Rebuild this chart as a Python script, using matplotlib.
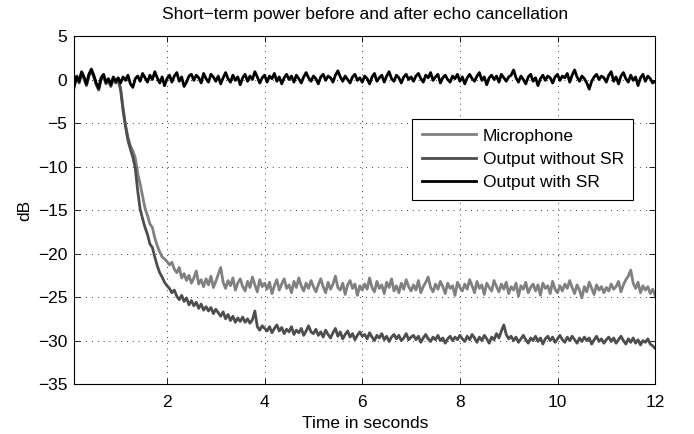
import numpy as np
import matplotlib
matplotlib.use("Agg")
import matplotlib.pyplot as plt

plt.rcParams['font.family'] = ['Liberation Sans', 'DejaVu Sans']

# time base (seconds), 0.05 s sampling
time_s = np.round(np.linspace(0.05, 12.0, 240), 3)

out_with_sr = [
    -2.0, -0.6, 0.4, -0.2, 0.9, 0.3, -0.5, 0.6, 1.2, 0.5, -0.4, -1.0, 0.2, 0.6, -0.3, 0.1, -0.6, 0.3, -0.2, 0.2,
    -0.4, 0.3, -0.1, 0.5, -0.5, -0.9, 0.1, 0.4, -0.2, 0.7, 0.2, -0.3, 0.5, 0.0, 0.9, 0.2, -0.4, 0.3, -0.7, 0.1,
    0.5, -0.3, 0.4, 0.8, -0.2, 0.3, -0.8, -0.3, 0.4, 0.6, -0.1, 0.5, 0.2, -0.4, 0.7, 0.1, -0.3, 0.6, 0.3, -0.2,
    0.4, -0.5, 0.2, 0.8, 0.1, -0.3, 0.5, -0.1, 0.3, -0.6, 0.2, 0.6, -0.2, 0.4, 0.0, 0.9, 0.3, -0.4, 0.2, 0.5,
    -0.3, 0.4, 0.1, 0.7, -0.2, 0.3, -0.5, 0.2, 0.6, 0.0, 0.4, -0.3, 0.5, 0.1, -0.4, 0.3, 0.8, 0.2, -0.2, 0.4,
    0.1, -0.5, 0.3, 0.6, -0.1, 0.4, 0.2, -0.3, 0.5, 1.0, 0.3, -0.2, 0.4, 0.0, -0.4, 0.3, 0.6, -0.1, 0.2, -0.3,
    0.4, 0.1, -0.5, 0.3, 0.7, -0.2, 0.2, 0.5, -0.3, 0.4, 0.9, 0.1, -0.2, 0.5, 0.2, -0.4, 0.3, 0.6, 0.0, 0.3,
    -0.2, 0.4, 0.7, 0.1, -0.3, 0.5, 0.2, 0.8, -0.1, 0.3, 0.6, -0.4, 0.2, 0.5, 0.0, -0.3, 0.4, 0.1, 0.6, -0.2,
    0.3, -0.5, 0.2, 0.6, 0.1, -0.2, 0.4, 0.8, -0.1, 0.3, -0.6, 0.2, 0.5, 0.0, 0.4, -0.3, 0.6, 0.2, -0.2, 0.3,
    0.5, 1.1, 0.2, -0.3, 0.4, 0.0, -0.5, 0.3, 0.6, -0.2, 0.2, -0.7, 0.1, 0.5, -0.1, 0.4, 0.2, -0.4, 0.3, 0.6,
    -0.1, 0.4, 0.2, 0.7, -0.3, 0.5, 1.1, 0.3, -0.2, 0.4, 0.1, -0.4, -1.1, -0.2, 0.3, 0.6, 0.0, 0.4, 0.2, -0.3,
    0.5, 0.9, -0.2, 0.3, -0.5, 0.4, 0.8, 0.1, -0.3, 0.5, -0.1, 0.3, -0.7, 0.2, 0.6, -0.2, 0.4, 0.1, -0.4, -0.2,
]

microphone = [
    -2.1, -0.7, 0.3, -0.3, 0.8, 0.2, -0.6, 0.5, 1.1, 0.4, -0.5, -1.1, 0.1, 0.5, -0.4, 0.0, -0.7, 0.2, -0.3, 0.0,
    -1.0, -3.2, -5.2, -6.6, -7.6, -8.2, -9.0, -10.8, -12.0, -13.4, -14.8, -15.6, -16.6, -17.0, -18.2, -19.1, -19.8, -20.4, -20.6, -20.9,
    -21.3, -21.0, -21.8, -22.2, -21.6, -22.8, -22.3, -23.1, -22.5, -23.4, -22.8, -22.0, -23.5, -23.0, -23.8, -22.9, -23.6, -22.6, -23.9, -23.2,
    -22.4, -21.6, -23.3, -24.0, -23.1, -23.7, -22.8, -24.2, -23.4, -22.9, -23.8, -24.3, -23.2, -23.9, -22.7, -23.6, -24.4, -23.0, -23.8, -23.4,
    -24.1, -23.3, -24.6, -23.7, -23.0, -24.2, -23.5, -22.9, -24.0, -23.6, -24.5, -23.2, -23.9, -22.8, -23.7, -24.3, -23.4, -24.0, -23.1, -23.8,
    -24.4, -23.6, -22.9, -23.8, -24.5, -23.3, -24.1, -23.5, -22.6, -23.9, -24.2, -23.4, -24.7, -23.6, -23.1, -24.0, -23.5, -24.8, -23.7, -24.2,
    -23.5, -24.1, -22.8, -23.9, -24.4, -23.2, -24.0, -23.6, -24.6, -23.3, -23.9, -22.9, -24.3, -23.7, -24.5, -23.4, -24.1, -23.0, -23.8, -24.3,
    -23.6, -24.2, -23.1, -24.5, -23.8, -23.3, -22.7, -23.9, -24.4, -23.5, -24.1, -23.2, -23.8, -24.6, -23.4, -24.0, -23.7, -24.8, -23.3, -23.9,
    -24.3, -23.5, -24.1, -23.0, -23.7, -24.5, -23.2, -24.0, -23.6, -24.7, -23.4, -23.9, -24.3, -23.1, -23.8, -24.4, -23.5, -24.1, -23.3, -24.6,
    -23.8, -24.2, -23.4, -24.9, -23.7, -24.1, -23.3, -24.5, -23.9, -23.5, -24.3, -23.6, -24.8, -23.4, -24.0, -23.7, -24.6, -23.2, -24.1, -24.5,
    -23.7, -24.3, -23.5, -24.0, -23.1, -23.9, -24.6, -23.6, -24.2, -25.1, -23.8, -24.4, -23.3, -24.0, -24.7, -23.6, -24.2, -23.8, -24.5, -23.9,
    -24.3, -23.5, -24.1, -23.8, -23.2, -24.4, -23.6, -23.0, -22.6, -21.9, -23.4, -24.0, -23.3, -24.5, -23.7, -24.2, -23.8, -24.6, -24.1, -24.8,
]

out_without_sr = [
    -2.2, -0.8, 0.2, -0.4, 0.7, 0.1, -0.7, 0.4, 1.0, 0.3, -0.6, -1.2, 0.0, 0.4, -0.5, -0.1, -0.8, 0.1, -0.4, -0.1,
    -1.2, -3.6, -5.4, -7.0, -8.0, -8.9, -10.2, -12.8, -14.9, -16.0, -17.0, -17.8, -18.9, -19.3, -20.4, -21.4, -22.2, -22.7, -23.3, -23.7,
    -24.0, -24.5, -24.2, -24.9, -25.3, -24.8, -25.5, -25.1, -25.9, -25.4, -26.0, -25.6, -26.3, -25.8, -26.5, -26.1, -26.6, -26.2, -26.9, -26.4,
    -26.8, -27.2, -26.7, -27.5, -27.0, -27.7, -27.2, -27.9, -27.4, -27.8, -27.3, -27.9, -27.5, -28.0, -27.6, -26.6, -28.4, -28.8, -28.3, -28.6,
    -28.9, -28.4, -29.1, -28.6, -28.2, -28.9, -28.5, -29.2, -28.7, -29.0, -28.4, -29.3, -28.8, -29.1, -28.6, -29.4, -28.9, -28.3, -29.0, -29.2,
    -28.7, -29.4, -29.0, -29.6, -28.8, -29.3, -29.7, -29.1, -28.6, -29.5, -29.0, -29.8, -29.3, -28.9, -29.6, -29.2, -29.9, -29.4, -29.0, -29.5,
    -29.3, -29.8, -29.1, -29.6, -30.0, -29.4, -29.7, -29.2, -29.9, -29.5, -30.1, -29.6, -29.3, -29.8, -29.4, -30.0, -29.7, -29.2, -29.9, -29.6,
    -29.4, -29.9, -29.5, -30.2, -29.7, -29.3, -29.8, -30.1, -29.6, -29.9, -29.4, -30.0, -29.7, -30.3, -29.8, -29.5, -30.0, -29.6, -29.9, -29.4,
    -29.8, -30.1, -29.5, -29.9, -29.3, -29.7, -30.2, -29.6, -30.0, -29.4, -29.8, -30.3, -29.6, -29.9, -29.2, -29.7, -28.9, -28.2, -29.3, -29.8,
    -29.5, -30.0, -29.6, -30.2, -29.8, -29.4, -29.9, -30.3, -29.7, -30.0, -29.5, -30.1, -29.7, -30.4, -29.8, -29.5, -30.0, -29.6, -30.2, -29.8,
    -29.4, -29.9, -30.2, -29.6, -30.0, -29.5, -29.9, -30.3, -29.7, -30.1, -29.6, -30.0, -29.7, -30.4, -29.9, -29.5, -30.1, -29.8, -30.3, -29.9,
    -29.6, -30.1, -29.7, -30.3, -29.9, -29.5, -30.0, -30.4, -29.8, -30.2, -29.7, -30.3, -29.9, -30.5, -30.0, -30.2, -29.8, -30.4, -30.6, -30.9,
]

series_labels = ["Microphone", "Output without SR", "Output with SR"]
x_ticks = [2, 4, 6, 8, 10, 12]
y_ticks = [-35, -30, -25, -20, -15, -10, -5, 0, 5]

FS = 12.5

fig = plt.figure(figsize=(6.94, 4.34), dpi=100)
ax = fig.add_axes([0.107, 0.115, 0.837, 0.802])

ax.plot(time_s, microphone, color='#808080', lw=2.0, label=series_labels[0])
ax.plot(time_s, out_without_sr, color='#4d4d4d', lw=2.0, label=series_labels[1])
ax.plot(time_s, out_with_sr, color='black', lw=2.0, label=series_labels[2])

ax.set_xlim(0.1, 12)
ax.set_ylim(-35, 5)
ax.set_xticks(x_ticks)
ax.set_yticks(y_ticks)
ax.tick_params(direction='in', top=True, right=True, length=4, width=0.6, labelsize=FS)
ax.tick_params(axis='x', pad=8)
ax.tick_params(axis='y', pad=5)
ax.grid(True, color='black', linestyle=(0, (1, 6)), linewidth=0.6)
for s in ax.spines.values():
    s.set_linewidth(0.8)

ax.set_title("Short\u2212term power before and after echo cancellation", fontsize=FS, pad=12)
ax.set_xlabel("Time in seconds", fontsize=FS, labelpad=4)
ax.set_ylabel("dB", fontsize=FS, labelpad=4)

leg = ax.legend(loc='upper left', bbox_to_anchor=(0.582, 0.762), borderaxespad=0,
                fontsize=FS, fancybox=False, framealpha=1, edgecolor='black',
                borderpad=0.55, handlelength=3.1, handletextpad=0.4, labelspacing=0.47)
leg.get_frame().set_linewidth(0.8)

fig.savefig("out.png", dpi=100)
